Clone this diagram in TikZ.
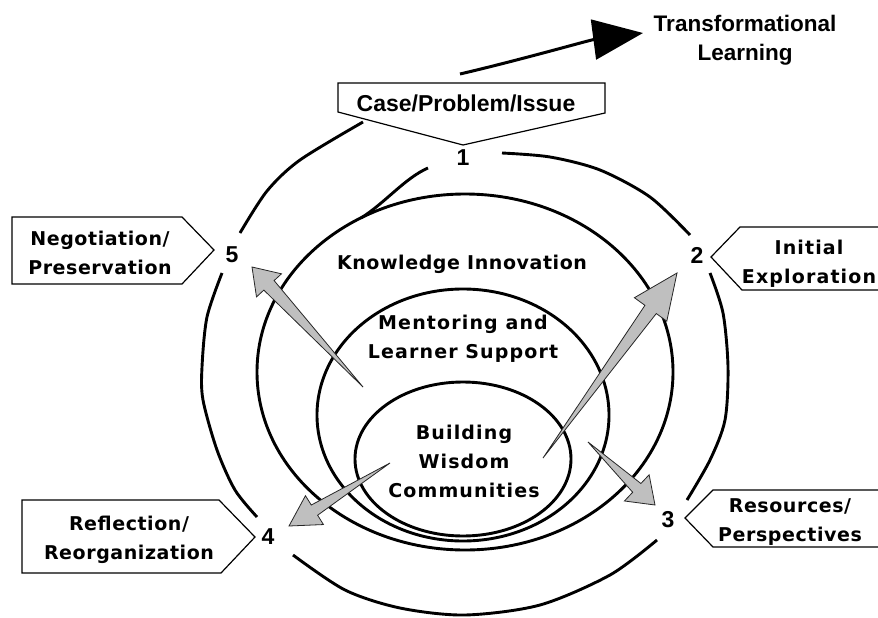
\documentclass[tikz,border=0pt]{standalone}
\usepackage{fontspec}
\usetikzlibrary{calc,arrows.meta}
\newfontfamily\lblfont[LetterSpace=3]{DejaVu Sans}
\newfontfamily\widefont[LetterSpace=6]{DejaVu Sans}
\newfontfamily\arlfont{Liberation Sans}
\tikzset{
  ring/.style={line width=2.9pt},
  callout/.style={draw, line width=1.2pt, fill=white, line join=miter},
  lbl/.style={font=\lblfont\bfseries\fontsize{19}{29}\selectfont, align=center, inner sep=0pt},
  widelbl/.style={font=\widefont\bfseries\fontsize{19}{29}\selectfont, align=center, inner sep=0pt},
  num/.style={font=\arlfont\bfseries\fontsize{23}{23}\selectfont, inner sep=0pt},
  arlbl/.style={font=\arlfont\bfseries\fontsize{22.5}{29}\selectfont, align=center, inner sep=0pt},
  grayarrow/.style={fill=black!25, draw=black!85, line width=0.8pt, line join=miter},
}
% #1 name, #2 tail, #3 tip, #4 head length, #5 head half width, #6 shaft half width
\newcommand\graytap[6]{%
  \coordinate (#1b) at ($(#3)!#4!(#2)$);
  \draw[grayarrow] (#2) -- ($(#1b)!#6!90:(#3)$) -- ($(#1b)!#5!90:(#3)$) -- (#3)
    -- ($(#1b)!#5!-90:(#3)$) -- ($(#1b)!#6!-90:(#3)$) -- cycle;
}
\begin{document}
\begin{tikzpicture}[x=1pt,y=-1pt]
\useasboundingbox (0,0) rectangle (878,618);
\fill[white] (0,0) rectangle (878,618);

% inner rings
\draw[ring] (465,372) ellipse [x radius=208pt, y radius=178pt];
\draw[ring] (463,415) ellipse [x radius=146pt, y radius=126pt];
\draw[ring] (463,459) ellipse [x radius=108pt, y radius=77pt];
% spiral piece merging into Knowledge ring
\draw[ring] (428,168) .. controls (405,178) and (385,203) .. (361,218);

% outer spiral arcs
\draw[ring] plot[smooth] coordinates {(363,122) (300,160) (267,191) (240,233)};
\draw[ring] plot[smooth] coordinates {(502,153) (550,157) (600,170) (650,197) (690,235)};
\draw[ring] plot[smooth] coordinates {(710,273) (723,313) (728,367) (725,420) (710,460) (687,500)};
\draw[ring] plot[smooth] coordinates {(657,540) (610,575) (540,605) (465,615) (400,608) (345,590) (293,555)};
\draw[ring] plot[smooth] coordinates {(257,517) (235,490) (217,450) (203,400) (202,367) (207,317) (222,273)};

% arrow to Transformational Learning
\coordinate (spiralend) at (460,74);
\coordinate (tltip) at (643,33);
\draw[line width=3pt, -{Triangle[length=50pt,width=40pt]}] (spiralend) .. controls (520,60) and (590,40) .. (tltip);

% callouts
\draw[callout] (338,83) -- (605,83) -- (605,113) -- (463,145) -- (338,112) -- cycle;
\draw[callout] (12,217) -- (182,217) -- (214,250) -- (182,284) -- (12,284) -- cycle;
\draw[callout] (884,227) -- (740,227) -- (711,257) -- (742,290) -- (884,290);
\draw[callout] (884,490) -- (713,490) -- (685,518) -- (713,547) -- (884,547);
\draw[callout] (22,500) -- (219,500) -- (255,537) -- (221,573) -- (22,573) -- cycle;

% gray arrows
\coordinate (a5tail) at (363,387); \coordinate (a5tip) at (252,267);
\coordinate (a2tail) at (543,458); \coordinate (a2tip) at (677,273);
\coordinate (a3tail) at (588,442); \coordinate (a3tip) at (655,505);
\coordinate (a4tail) at (390,463); \coordinate (a4tip) at (289,526);
\graytap{a5}{a5tail}{a5tip}{25pt}{17pt}{7pt}
\graytap{a2}{a2tail}{a2tip}{45pt}{20pt}{7pt}
\graytap{a3}{a3tail}{a3tip}{25pt}{18pt}{6pt}
\graytap{a4}{a4tail}{a4tip}{30pt}{17pt}{6pt}

% texts
\node[arlbl, font=\arlfont\bfseries\fontsize{23}{29}\selectfont] (case) at (466,103) {Case/Problem/Issue};
\node[arlbl] (tl) at (745,40) {Transformational\\Learning};
\node[lbl] (neg) at (100,253) {Negotiation/\\Preservation};
\node[widelbl] (init) at (809,264) {Initial\\Exploration};
\node[lbl] (res) at (790,522) {Resources/\\Perspectives};
\node[lbl] (refl) at (129,540) {Reflection/\\Reorganization};
\node[lbl] (know) at (462,264) {Knowledge Innovation};
\node[widelbl] (ment) at (463,339) {Mentoring and\\Learner Support};
\node[widelbl] (build) at (464,461) {Building\\Wisdom\\Communities};

\node[num] (n1) at (463,158) {1};
\node[num] (n2) at (697,255) {2};
\node[num] (n3) at (668,520) {3};
\node[num] (n4) at (268,537) {4};
\node[num] (n5) at (232,255) {5};
\end{tikzpicture}
\end{document}
